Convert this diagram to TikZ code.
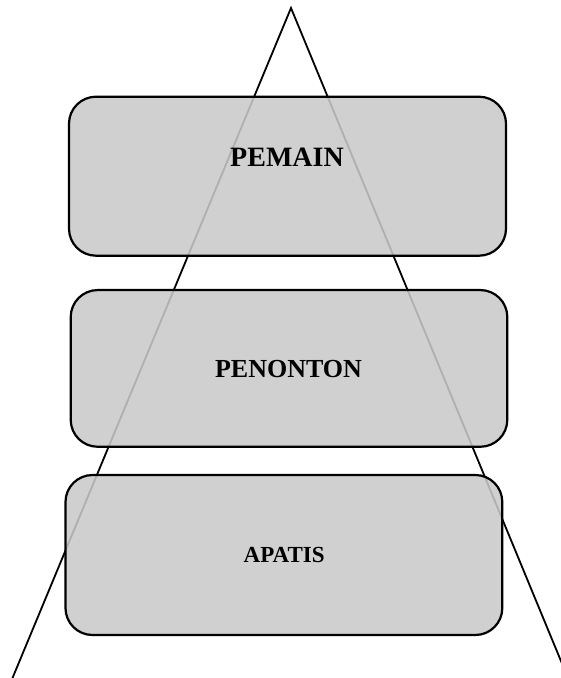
\documentclass[tikz,border=0pt]{standalone}
\usepackage{fontspec}
\setmainfont{Liberation Serif}
\begin{document}
\begin{tikzpicture}[x=1pt,y=-1pt,
  layerbox/.style={draw=black, line width=2.2pt, fill={rgb,255:red,201;green,201;blue,201}, fill opacity=0.875,
    rounded corners=27pt, inner sep=0pt, outer sep=0pt},
  layertext/.style={anchor=base, inner sep=0pt, font=\bfseries},
  tri/.style={draw=black, line width=1.8pt}]
\useasboundingbox (0,0) rectangle (561,678);
\clip (0,0) rectangle (561,678);
\coordinate (apex) at (291,8);
\coordinate (bl) at (12.5,678);
\coordinate (br) at (568,678);
\draw[tri] (bl) -- (apex) -- (br);
\node[layerbox, minimum width=437pt, minimum height=159pt] (b1) at (287.5,176.2) {};
\node[layerbox, minimum width=436.6pt, minimum height=156.7pt] (b2) at (289,368.4) {};
\node[layerbox, minimum width=436.8pt, minimum height=160pt] (b3) at (283.9,555) {};
\node[layertext, font=\bfseries\fontsize{28}{30}\selectfont] (t1) at (287,166) {PEMAIN};
\node[layertext, font=\bfseries\fontsize{26}{28}\selectfont] (t2) at (288.5,377.7) {PENONTON};
\node[layertext, font=\bfseries\fontsize{23}{25}\selectfont] (t3) at (284.2,562.3) {APATIS};
\end{tikzpicture}
\end{document}
